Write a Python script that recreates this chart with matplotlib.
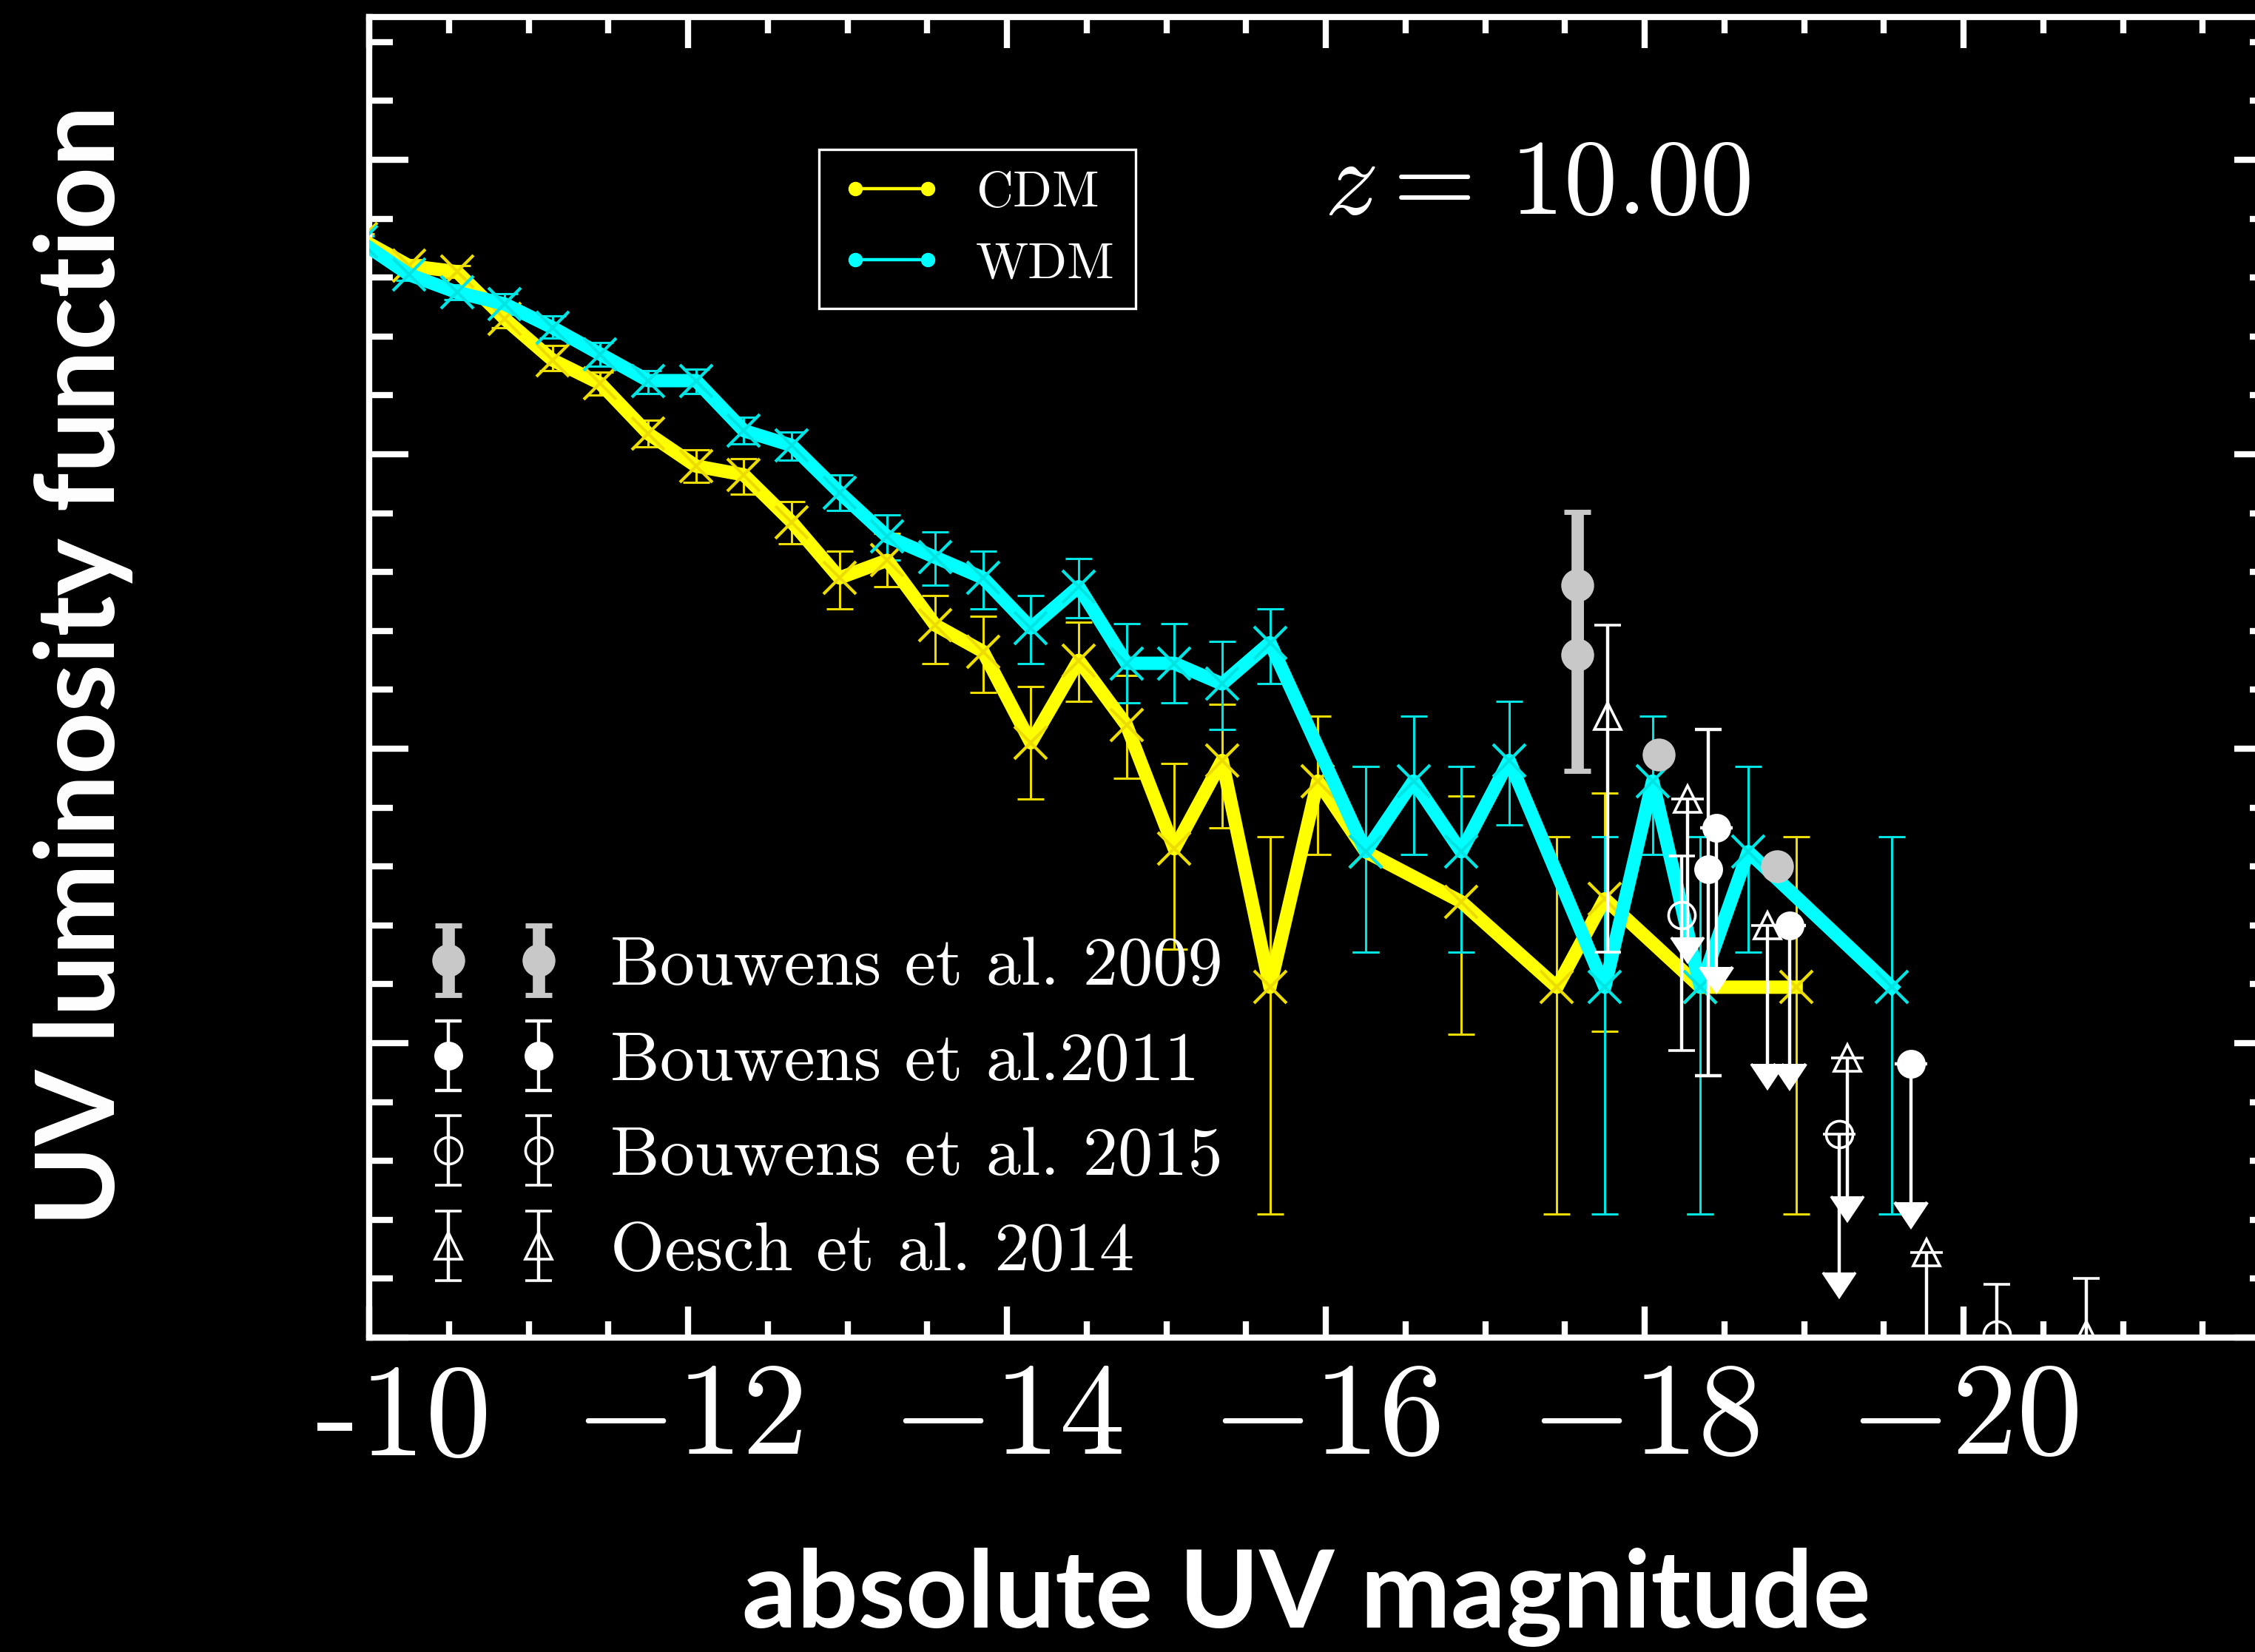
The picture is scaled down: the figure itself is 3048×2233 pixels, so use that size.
import numpy as np
import matplotlib
matplotlib.use("Agg")
from matplotlib import pyplot as plt
from matplotlib.lines import Line2D
from matplotlib.ticker import MultipleLocator, FixedLocator, FixedFormatter, NullFormatter
from matplotlib.transforms import offset_copy

plt.rcParams['font.family'] = 'serif'
plt.rcParams['font.serif'] = ['cmr10', 'DejaVu Serif']
plt.rcParams['mathtext.fontset'] = 'cm'
plt.rcParams['axes.unicode_minus'] = False
plt.rcParams['text.color'] = 'white'

# model UV luminosity functions, log10(phi) per magnitude bin
cdm_mag = [-9.95, -10.25, -10.55, -10.85, -11.15, -11.45, -11.75, -12.05, -12.35, -12.65,
           -12.95, -13.25, -13.55, -13.85, -14.15, -14.45, -14.75, -15.05, -15.35, -15.65,
           -15.95, -16.25, -16.85, -17.45, -17.75, -18.35, -18.95]
cdm_phi = [-2.27, -2.36, -2.38, -2.54, -2.68, -2.76, -2.93, -3.04, -3.07, -3.23,
           -3.42, -3.36, -3.58, -3.67, -3.98, -3.70, -3.92, -4.34, -4.04, -4.81,
           -4.11, -4.35, -4.52, -4.81, -4.51, -4.81, -4.81]
cdm_lo = [0.02, 0.02, 0.02, 0.03, 0.035, 0.04, 0.045, 0.055, 0.065, 0.075,
          0.105, 0.09, 0.13, 0.14, 0.19, 0.14, 0.18, 0.34, 0.23, 0.77,
          0.25, 0.34, 0.45, 0.77, 0.45, 0.77, 0.77]
cdm_hi = [0.02, 0.02, 0.02, 0.045, 0.05, 0.04, 0.045, 0.055, 0.055, 0.07,
          0.09, 0.09, 0.10, 0.12, 0.19, 0.13, 0.17, 0.29, 0.19, 0.51,
          0.22, 0.29, 0.36, 0.51, 0.36, 0.51, 0.51]

wdm_mag = [-9.95, -10.25, -10.55, -10.85, -11.15, -11.45, -11.75, -12.05, -12.35, -12.65,
           -12.95, -13.25, -13.55, -13.85, -14.15, -14.45, -14.75, -15.05, -15.35, -15.65,
           -16.25, -16.55, -16.85, -17.15, -17.75, -18.05, -18.35, -18.65, -19.55]
wdm_phi = [-2.28, -2.39, -2.45, -2.49, -2.57, -2.66, -2.75, -2.75, -2.92, -2.97,
           -3.13, -3.28, -3.35, -3.42, -3.59, -3.45, -3.71, -3.71, -3.78, -3.64,
           -4.35, -4.11, -4.35, -4.04, -4.81, -4.11, -4.81, -4.35, -4.81]
wdm_lo = [0.02, 0.02, 0.025, 0.035, 0.035, 0.04, 0.045, 0.045, 0.045, 0.05,
          0.06, 0.08, 0.095, 0.105, 0.12, 0.105, 0.135, 0.135, 0.155, 0.14,
          0.34, 0.25, 0.34, 0.22, 0.77, 0.25, 0.77, 0.34, 0.77]
wdm_hi = [0.02, 0.02, 0.025, 0.035, 0.04, 0.04, 0.035, 0.04, 0.045, 0.045,
          0.06, 0.075, 0.085, 0.09, 0.11, 0.095, 0.135, 0.135, 0.145, 0.115,
          0.29, 0.22, 0.29, 0.20, 0.51, 0.22, 0.51, 0.29, 0.51]

# observations
b09_mag = [-17.58, -17.58]
b09_phi = [-3.445, -3.68]
b09_lo = [0.235, 0.395]
b09_hi = [0.25, 0.235]
b09_mag_pt = [-18.09, -18.83]
b09_phi_pt = [-4.02, -4.40]

b11_mag = [-18.40]
b11_phi = [-4.41]
b11_lo = [0.70]
b11_hi = [0.475]
b11_lim_mag = [-18.45, -18.91, -19.67]
b11_lim_phi = [-4.27, -4.60, -5.07]

b15_mag = [-18.23, -20.21]
b15_phi = [-4.565, -5.99]
b15_lo = [0.46, 0.2]
b15_hi = [0.20, 0.17]
b15_lim_mag = [-19.22]
b15_lim_phi = [-5.31]

oe14_mag = [-17.77, -20.77]
oe14_phi = [-3.89, -5.99]
oe14_lo = [0.80, 0.2]
oe14_hi = [0.31, 0.19]
oe14_lim_mag = [-18.27, -18.77, -19.27, -19.77]
oe14_lim_phi = [-4.17, -4.60, -5.05, -5.71]

arrow_len = 0.47

xticks = [-10, -12, -14, -16, -18, -20]
xticklabels = ['', '$-12$', '$-14$', '$-16$', '$-18$', '$-20$']

W, H, DPI = 3048, 2233, 200
fig = plt.figure(figsize=(W / DPI, H / DPI), dpi=DPI, facecolor='black')
ax = fig.add_axes([499 / W, (H - 1808) / H, 2574 / W, 1785 / H])
ax.set_facecolor('black')
ax.set_xlim(-10, -10 - 2574 / 215.5)
ax.set_ylim(-6, -6 + 1785 / 398)

ylw, cyn = '#ffff00', '#00ffff'
ylw_e, cyn_e = '#ecdc00', '#00e4e4'

ax.errorbar(cdm_mag, cdm_phi, yerr=[cdm_lo, cdm_hi], fmt='none', ecolor=ylw_e,
            elinewidth=1.1, capsize=6.5, capthick=1.1, zorder=2)
ax.errorbar(wdm_mag, wdm_phi, yerr=[wdm_lo, wdm_hi], fmt='none', ecolor=cyn_e,
            elinewidth=1.1, capsize=6.5, capthick=1.1, zorder=2.2)
ax.plot(cdm_mag, cdm_phi, color=ylw, lw=6.5, zorder=3)
ax.plot(cdm_mag, cdm_phi, ls='none', marker='x', ms=16, mew=1.5, color=ylw_e, zorder=3.2)
ax.plot(wdm_mag, wdm_phi, color=cyn, lw=6.5, zorder=4)
ax.plot(wdm_mag, wdm_phi, ls='none', marker='x', ms=16, mew=1.5, color=cyn_e, zorder=4.2)

gray = '#c8c8c8'
eb09 = ax.errorbar(b09_mag, b09_phi, yerr=[b09_lo, b09_hi], fmt='o', color=gray, ms=15,
                   elinewidth=6, capsize=6.5, capthick=2.5, zorder=6)
ax.plot(b09_mag_pt, b09_phi_pt, 'o', color=gray, ms=15, zorder=6)

eb11 = ax.errorbar(b11_mag, b11_phi, yerr=[b11_lo, b11_hi], fmt='o', color='white', ms=13,
                   elinewidth=1.6, capsize=6.5, capthick=1.6, zorder=7)
ax.errorbar(b11_lim_mag, b11_lim_phi, yerr=arrow_len, uplims=True, fmt='o', color='white',
            ms=13, elinewidth=1.6, capsize=8, capthick=1.6, zorder=7)

eb15 = ax.errorbar(b15_mag, b15_phi, yerr=[b15_lo, b15_hi], fmt='o', color='white',
                   mfc='none', ms=13, mew=1.3, elinewidth=1.6, capsize=6.5, capthick=1.6, zorder=7)
ax.errorbar(b15_lim_mag, b15_lim_phi, yerr=arrow_len, uplims=True, fmt='o', color='white',
            mfc='none', ms=13, mew=1.3, elinewidth=1.6, capsize=8, capthick=1.6, zorder=7)

eb14 = ax.errorbar(oe14_mag, oe14_phi, yerr=[oe14_lo, oe14_hi], fmt='^', color='white',
                   mfc='none', ms=13, mew=1.3, elinewidth=1.6, capsize=6.5, capthick=1.6, zorder=7)
ax.errorbar(oe14_lim_mag, oe14_lim_phi, yerr=arrow_len, uplims=True, fmt='^', color='white',
            mfc='none', ms=13, mew=1.3, elinewidth=1.6, capsize=8, capthick=1.6, zorder=7)

# axes styling
for s in ax.spines.values():
    s.set_color('white')
    s.set_linewidth(3)
ax.xaxis.set_major_locator(FixedLocator(xticks))
ax.xaxis.set_major_formatter(FixedFormatter(xticklabels))
ax.xaxis.set_minor_locator(MultipleLocator(0.5))
ax.yaxis.set_major_locator(MultipleLocator(1.0))
ax.yaxis.set_minor_locator(MultipleLocator(0.2))
ax.yaxis.set_major_formatter(NullFormatter())
ax.tick_params(which='both', direction='in', top=True, right=True, colors='white', width=3)
ax.tick_params(axis='x', which='major', length=15, labelsize=64, pad=12)
ax.tick_params(axis='x', which='minor', length=8)
ax.tick_params(axis='y', which='major', length=19)
ax.tick_params(axis='y', which='minor', length=11.5)

# first tick label drawn with a short hyphen, as in the original
ax.text(-10, 0, '-10', fontsize=64, color='white', ha='left', va='baseline',
        transform=offset_copy(ax.get_xaxis_transform(), fig=fig, x=-72 / DPI, y=-159 / DPI, units='inches'))

# legends
h_cdm = Line2D([0], [0], color=ylw, lw=1.6, marker='o', ms=6)
h_wdm = Line2D([0], [0], color=cyn, lw=1.6, marker='o', ms=6)
leg1 = ax.legend([h_cdm, h_wdm], ['CDM', 'WDM'], loc='upper left',
                 bbox_to_anchor=(1107 / W, (H - 202) / H), bbox_transform=fig.transFigure,
                 borderaxespad=0, fontsize=25, fancybox=False, edgecolor='white',
                 facecolor='black', framealpha=1, numpoints=2, handlelength=2.0,
                 handletextpad=0.64, borderpad=0.41, labelspacing=0.5, labelcolor='white')
leg1.get_frame().set_linewidth(1.2)
ax.add_artist(leg1)

ax.legend([eb09, eb11, eb15, eb14],
          ['Bouwens et al. 2009', 'Bouwens et al.2011', 'Bouwens et al. 2015', 'Oesch et al. 2014'],
          loc='center left', bbox_to_anchor=(549 / W, (H - 1500) / H), bbox_transform=fig.transFigure,
          borderaxespad=0, borderpad=0.3, frameon=False, fontsize=34, numpoints=2,
          handlelength=1.9, handletextpad=0.72, labelspacing=0.47, labelcolor='white')

fig.text(2078 / W, (H - 253) / H, r'$z = \,10.00$', fontsize=52, color='white', ha='center', va='center')

fig.text(1766 / W, (H - 2200) / H, 'absolute UV magnitude', fontsize=52.5, fontfamily='Lato',
         fontweight='bold', color='white', ha='center', va='baseline')
fig.text(155 / W, (H - 899) / H, 'UV luminosity function', fontsize=53, fontfamily='Lato',
         fontweight='bold', color='white', ha='center', va='baseline', rotation=90,
         rotation_mode='anchor')

fig.savefig('out.png', dpi=DPI, facecolor='black')
